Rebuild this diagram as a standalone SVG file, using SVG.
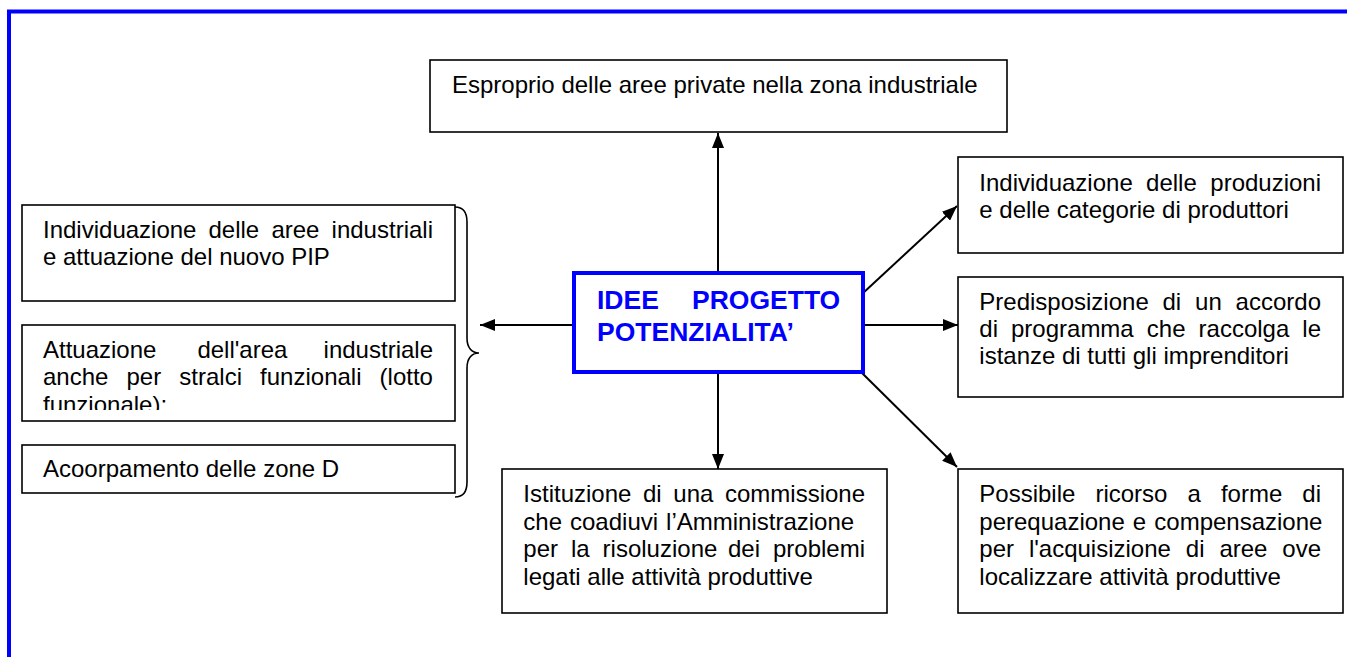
<svg xmlns="http://www.w3.org/2000/svg" width="1347" height="657" viewBox="0 0 1347 657">
<style>
.box{fill:#fff;stroke:#000;stroke-width:1.6}
.t{font-family:"Liberation Sans",Arial,sans-serif;font-size:24px;fill:#000}
.c{font-family:"Liberation Sans",Arial,sans-serif;font-size:26.5px;font-weight:bold;fill:#0000ff}
.conn{stroke:#000;stroke-width:2;fill:none}
</style>
<defs>
<marker id="ah" viewBox="0 0 15 12" refX="15" refY="6" markerWidth="15" markerHeight="12" markerUnits="userSpaceOnUse" orient="auto">
<path d="M0,0 L15,6 L0,12 z" fill="#000"/>
</marker>
<clipPath id="clipL2"><rect x="22" y="325" width="433" height="85"/></clipPath>
</defs>
<rect width="1347" height="657" fill="#fff"/>
<path d="M9,657 V11.5 H1347" fill="none" stroke="#0000ff" stroke-width="4"/>

<g id="connectors">
<line class="conn" x1="718" y1="273" x2="718" y2="133" marker-end="url(#ah)"/>
<line class="conn" x1="718" y1="372" x2="718" y2="469" marker-end="url(#ah)"/>
<line class="conn" x1="574" y1="325" x2="480" y2="325" marker-end="url(#ah)"/>
<line class="conn" x1="863" y1="325" x2="958" y2="325" marker-end="url(#ah)"/>
<line class="conn" x1="862" y1="294" x2="957" y2="206" marker-end="url(#ah)"/>
<line class="conn" x1="862" y1="373" x2="957" y2="467" marker-end="url(#ah)"/>
<path d="M455,207 C463,207 467,212 467,222 L467,338 C467,348 472,353 479,353 C472,353 467,358 467,368 L467,482 C467,492 463,497 455,497" fill="none" stroke="#000" stroke-width="1.6"/>
</g>

<g id="top">
<rect class="box" x="430" y="60" width="577" height="72"/>
<text class="t" x="452" y="93">Esproprio delle aree private nella zona industriale</text>
</g>

<g id="center">
<rect x="574" y="273" width="289" height="99" fill="#fff" stroke="#0000ff" stroke-width="4"/>
<text class="c" y="308.5"><tspan x="597">IDEE</tspan><tspan x="692">PROGETTO</tspan></text>
<text class="c" x="597" y="340.5">POTENZIALITA’</text>
</g>

<g id="left1">
<rect class="box" x="22" y="205" width="433" height="96"/>
<text class="t" y="238"><tspan x="43">Individuazione</tspan><tspan x="208.5">delle</tspan><tspan x="271.4">aree</tspan><tspan x="331.6">industriali</tspan></text>
<text class="t" x="43" y="265">e attuazione del nuovo PIP</text>
</g>

<g id="left2">
<rect class="box" x="22" y="325" width="433" height="96"/>
<text class="t" y="357.5"><tspan x="43">Attuazione</tspan><tspan x="197.4">dell'area</tspan><tspan x="323.6">industriale</tspan></text>
<text class="t" y="385"><tspan x="43">anche</tspan><tspan x="126.5">per</tspan><tspan x="179.3">stralci</tspan><tspan x="260.1">funzionali</tspan><tspan x="379.6">(lotto</tspan></text>
<text class="t" x="43" y="412.5" clip-path="url(#clipL2)">funzionale);</text>
</g>

<g id="left3">
<rect class="box" x="22" y="445" width="433" height="48"/>
<text class="t" x="43" y="477">Acoorpamento delle zone D</text>
</g>

<g id="right1">
<rect class="box" x="958" y="157" width="385" height="96"/>
<text class="t" y="190.5"><tspan x="979.3">Individuazione</tspan><tspan x="1146.1">delle</tspan><tspan x="1210.3">produzioni</tspan></text>
<text class="t" x="979.3" y="217.5">e delle categorie di produttori</text>
</g>

<g id="right2">
<rect class="box" x="958" y="277" width="385" height="120"/>
<text class="t" y="310"><tspan x="979.3">Predisposizione</tspan><tspan x="1162.5">di</tspan><tspan x="1195.1">un</tspan><tspan x="1235.6">accordo</tspan></text>
<text class="t" y="337"><tspan x="979.3">di</tspan><tspan x="1011">programma</tspan><tspan x="1146.8">che</tspan><tspan x="1198.6">raccolga</tspan><tspan x="1302.3">le</tspan></text>
<text class="t" x="979.3" y="364">istanze di tutti gli imprenditori</text>
</g>

<g id="right3">
<rect class="box" x="958" y="469" width="385" height="144"/>
<text class="t" y="502"><tspan x="979.3">Possibile</tspan><tspan x="1095.4">ricorso</tspan><tspan x="1187.5">a</tspan><tspan x="1220.9">forme</tspan><tspan x="1302.3">di</tspan></text>
<text class="t" y="529.5"><tspan x="979.3">perequazione</tspan><tspan x="1132.7">e</tspan><tspan x="1154.3">compensazione</tspan></text>
<text class="t" y="557"><tspan x="979.3">per</tspan><tspan x="1028.9">l'acquisizione</tspan><tspan x="1185.8">di</tspan><tspan x="1219.4">aree</tspan><tspan x="1282.3">ove</tspan></text>
<text class="t" x="979.3" y="584.5">localizzare attività produttive</text>
</g>

<g id="bottom">
<rect class="box" x="502" y="469" width="385" height="144"/>
<text class="t" y="502"><tspan x="523.3">Istituzione</tspan><tspan x="643">di</tspan><tspan x="673.3">una</tspan><tspan x="725">commissione</tspan></text>
<text class="t" y="529.5"><tspan x="523.3">che</tspan><tspan x="570">coadiuvi</tspan><tspan x="666.1">l’Amministrazione</tspan></text>
<text class="t" y="557"><tspan x="523.3">per</tspan><tspan x="571">la</tspan><tspan x="602.6">risoluzione</tspan><tspan x="728">dei</tspan><tspan x="773">problemi</tspan></text>
<text class="t" x="523.3" y="584.5">legati alle attività produttive</text>
</g>
</svg>
